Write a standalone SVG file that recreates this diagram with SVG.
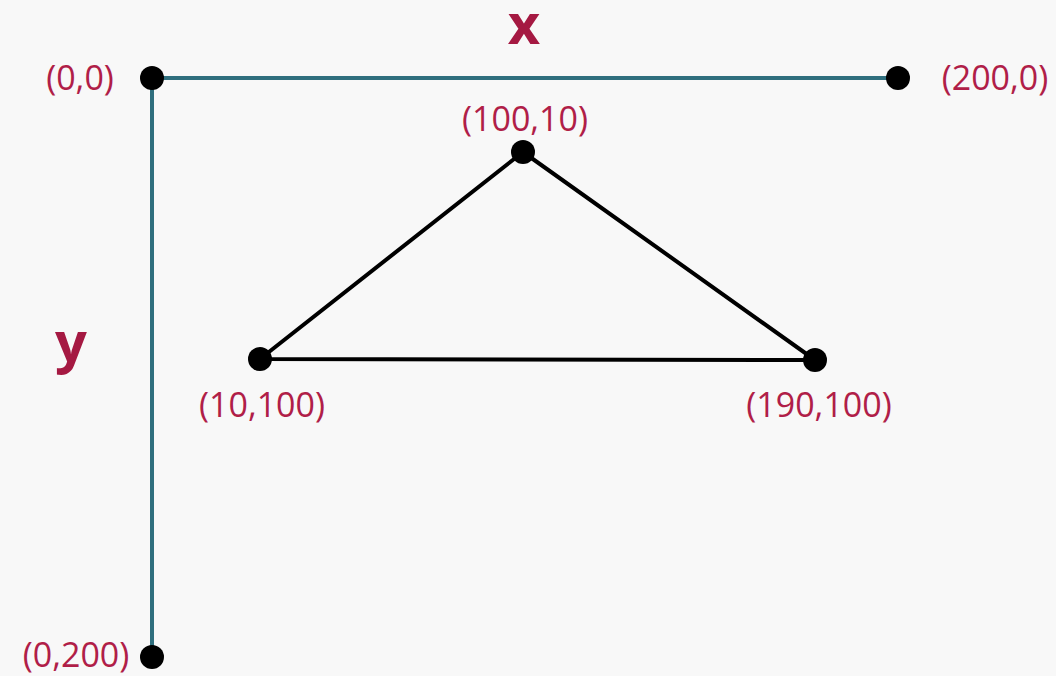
<svg xmlns="http://www.w3.org/2000/svg" width="1056" height="676" viewBox="0 0 1056 676">
<style>
.axis{stroke:#2f6f7e;stroke-width:4;fill:none}
.edge{stroke:#000;stroke-width:4;fill:none}
.dot{fill:#000}
.lbl{font-family:"Open Sans","Liberation Sans",sans-serif;font-size:34px;fill:#b01e48;text-anchor:middle}
.ax{font-family:"Open Sans","Liberation Sans",sans-serif;font-size:56px;font-weight:bold;fill:#a51942;text-anchor:middle}
</style>
<rect width="1056" height="676" fill="#f8f8f8"/>
<g id="connectors">
<line class="axis" x1="152" y1="78" x2="898" y2="78"/>
<line class="axis" x1="152" y1="78" x2="152" y2="657"/>
<polygon class="edge" points="523,152 260,359 815,360" stroke-linejoin="round"/>
</g>
<g id="axis-x"><text class="ax" x="524" y="44">x</text></g>
<g id="axis-y"><text class="ax" x="71" y="362">y</text></g>
<g id="p00"><circle class="dot" cx="152" cy="78" r="12"/><text class="lbl" x="80" y="90">(0,0)</text></g>
<g id="p2000"><circle class="dot" cx="898" cy="78" r="12"/><text class="lbl" x="995" y="90">(200,0)</text></g>
<g id="p10010"><circle class="dot" cx="523" cy="152" r="12"/><text class="lbl" x="525" y="131">(100,10)</text></g>
<g id="p10100"><circle class="dot" cx="260" cy="359" r="12"/><text class="lbl" x="262" y="417">(10,100)</text></g>
<g id="p190100"><circle class="dot" cx="815" cy="360" r="12"/><text class="lbl" x="819" y="417">(190,100)</text></g>
<g id="p0200"><circle class="dot" cx="152" cy="657" r="12"/><text class="lbl" x="76" y="667" font-size="33">(0,200)</text></g>
</svg>
